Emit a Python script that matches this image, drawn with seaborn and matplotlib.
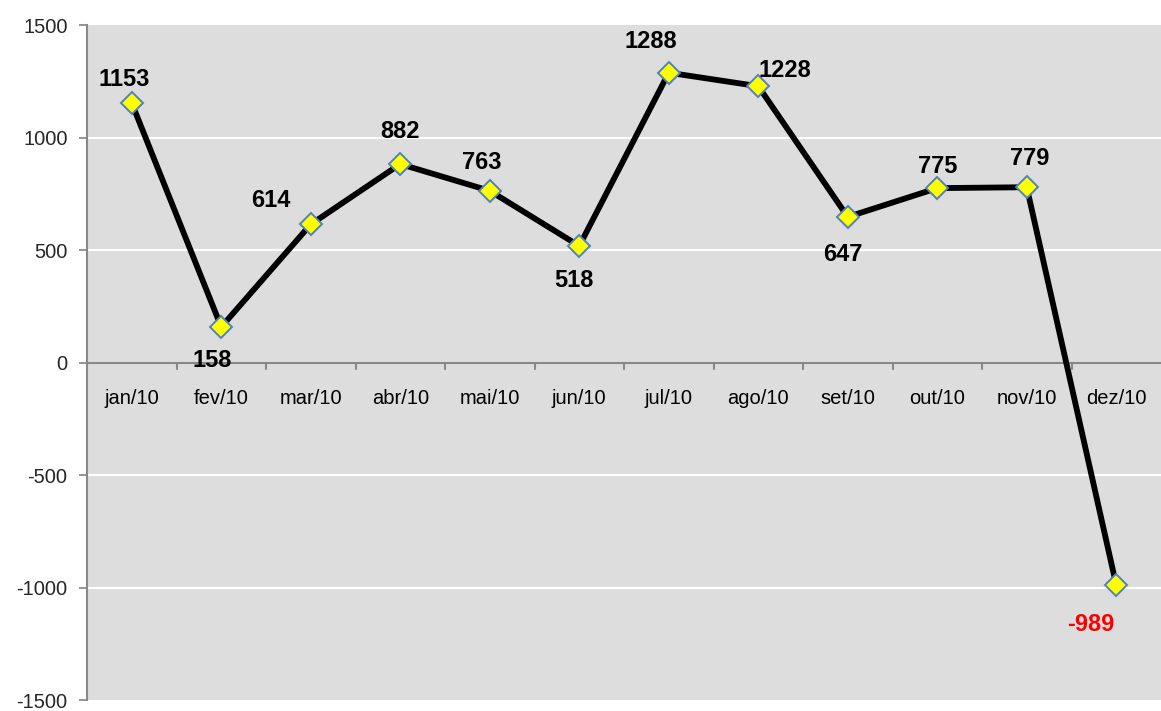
import matplotlib
matplotlib.use("Agg")
import matplotlib.pyplot as plt
import matplotlib.transforms as mtransforms
import seaborn as sns
import pandas as pd
import numpy as np

# data
meses = ["jan/10", "fev/10", "mar/10", "abr/10", "mai/10", "jun/10",
         "jul/10", "ago/10", "set/10", "out/10", "nov/10", "dez/10"]
saldo = [1153, 158, 614, 882, 763, 518, 1288, 1228, 647, 775, 779, -989]
# label offsets (pixels) relative to each point
label_dx = [-8, -9, -40, 0, -8, -5, -18, 27, -5, 0, 3, -26]
label_dy = [24, -34, 24, 33, 28, -35, 31, 16, -38, 22, 29, -39]

df = pd.DataFrame({"pos": np.arange(len(meses)), "saldo": saldo})

sns.set_theme(style="white")
plt.rcParams["font.family"] = ["Liberation Sans", "DejaVu Sans"]
plt.rcParams["axes.unicode_minus"] = False

fig = plt.figure(figsize=(11.61, 7.11), dpi=100)
ax = fig.add_axes([87 / 1161, 1 - 700 / 711, 1 - 87 / 1161, (700 - 25) / 711])
ax.set_facecolor("#dddddd")

sns.lineplot(data=df, x="pos", y="saldo", ax=ax, color="black", linewidth=4.2,
             marker="D", markersize=11, markerfacecolor="#ffff00",
             markeredgecolor="#4f81bd", markeredgewidth=1.4, zorder=3)

for i, v in enumerate(saldo):
    ax.annotate(str(v), (i, v), xytext=(label_dx[i], label_dy[i]),
                textcoords="offset pixels", ha="center", va="center",
                fontsize=17, fontweight="bold",
                color="red" if v < 0 else "black", zorder=4)

ax.set_xlim(-0.5, len(meses) - 0.5)
ax.set_ylim(-1500, 1500)
ax.set_yticks(np.arange(-1500, 1501, 500))
ax.tick_params(axis="y", labelsize=14.5, length=6, color="#888888", direction="out",
               left=True, pad=8)
for yv in [-1000, -500, 500, 1000]:
    ax.axhline(yv, color="white", linewidth=1.5, zorder=1)
ax.axhline(0, color="#888888", linewidth=1.5, zorder=2)

# x axis drawn at zero with category labels a fixed distance below it
ax.set_xticks([])
below = ax.transData + mtransforms.ScaledTranslation(0, -36 / 100, fig.dpi_scale_trans)
for i, m in enumerate(meses):
    ax.text(i, 0, m, transform=below, ha="center", va="center",
            fontsize=14.5, color="black")
for i in range(1, len(meses)):
    ax.plot([i - 0.5, i - 0.5], [0, -28], color="#888888", linewidth=1.5, zorder=2)

for side in ["top", "right", "bottom"]:
    ax.spines[side].set_visible(False)
ax.spines["left"].set_color("#888888")
ax.spines["left"].set_linewidth(1.5)
ax.set_xlabel("")
ax.set_ylabel("")

fig.savefig("out.png", dpi=100)
